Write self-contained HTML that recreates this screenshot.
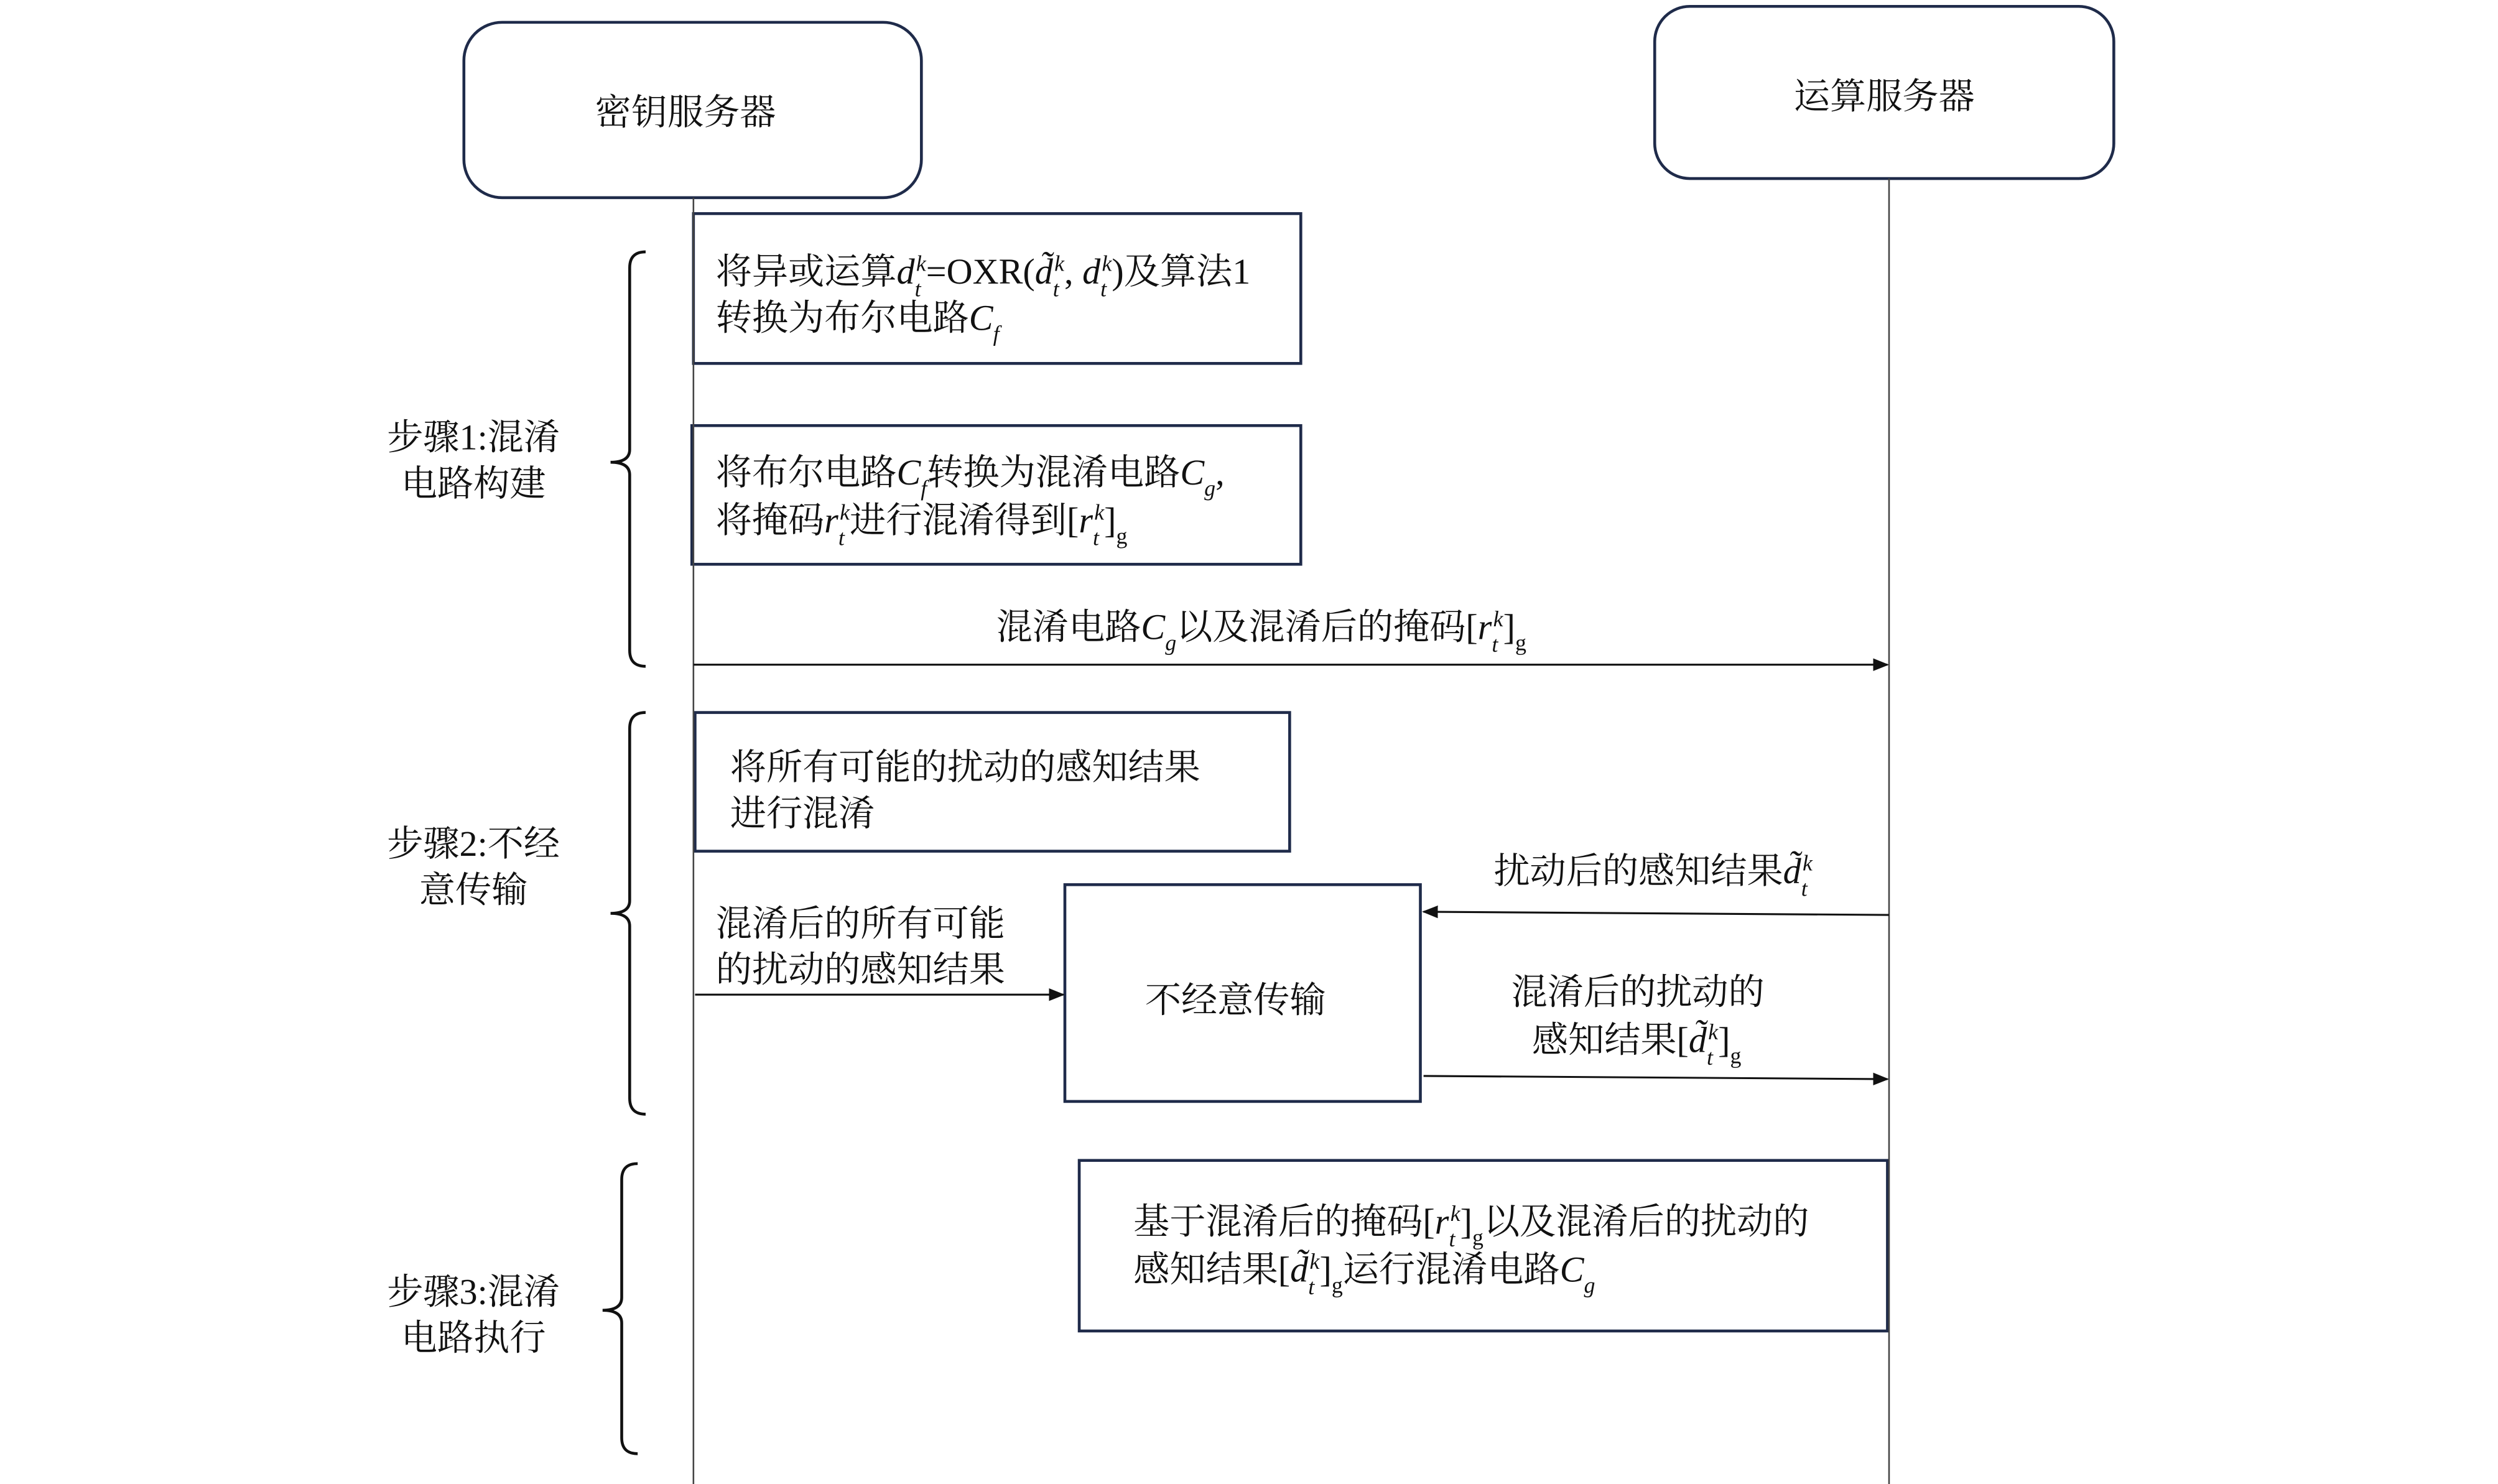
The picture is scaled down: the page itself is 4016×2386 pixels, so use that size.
<!DOCTYPE html>
<html><head><meta charset="utf-8"><style>
html,body{margin:0;padding:0;background:#fff;}
svg{display:block}
text{font-family:"Liberation Serif","Noto Serif CJK SC",serif;font-size:22.7px;fill:#111}
.m{font-style:italic}
.s{font-size:14px;font-style:italic}
.n{font-size:14px}
</style></head><body>
<svg width="4016" height="2386" viewBox="0 0 1567 931" preserveAspectRatio="none" xmlns="http://www.w3.org/2000/svg">
<defs><marker id="a" markerWidth="10" markerHeight="8" refX="9" refY="4" orient="auto" markerUnits="userSpaceOnUse"><path d="M0,0 L10,4 L0,8 z" fill="#111"/></marker></defs>
<g fill="none" stroke="#1f2b4a" stroke-width="1.8">
<rect x="291" y="14" width="287" height="110" rx="24"/>
<rect x="1038" y="4" width="288" height="108" rx="22"/>
<rect x="435" y="134" width="381" height="94"/>
<rect x="434" y="267" width="382" height="87"/>
<rect x="436" y="447" width="373" height="87"/>
<rect x="668" y="555" width="223" height="136"/>
<rect x="677" y="728" width="507" height="107"/>
</g>
<g stroke="#444" stroke-width="1" fill="none">
<line x1="435" y1="124" x2="435" y2="931"/>
<line x1="1185" y1="112" x2="1185" y2="931"/>
</g>
<g stroke="#111" stroke-width="1.2" fill="none">
<line x1="435" y1="417" x2="1184" y2="417" marker-end="url(#a)"/>
<line x1="1185" y1="574" x2="893" y2="572" marker-end="url(#a)"/>
<line x1="436" y1="624" x2="667" y2="624" marker-end="url(#a)"/>
<line x1="893" y1="675" x2="1184" y2="677" marker-end="url(#a)"/>
</g>
<g stroke="#111" stroke-width="1.8" fill="none">
<path d="M405,158 Q395,158 395,168 L395,282 Q395,290 383,290 Q395,290 395,298 L395,408 Q395,418 405,418"/>
<path d="M405,447 Q395,447 395,457 L395,565 Q395,573 383,573 Q395,573 395,581 L395,689 Q395,699 405,699"/>
<path d="M400,730 Q390,730 390,740 L390,814 Q390,822 378,822 Q390,822 390,830 L390,902 Q390,912 400,912"/>
</g>
<text x="430" y="78" text-anchor="middle">密钥服务器</text>
<text x="1182" y="68" text-anchor="middle">运算服务器</text>
<text x="297" y="282" text-anchor="middle">步骤1:混淆</text>
<text x="297" y="311" text-anchor="middle">电路构建</text>
<text x="297" y="537" text-anchor="middle">步骤2:不经</text>
<text x="297" y="566" text-anchor="middle">意传输</text>
<text x="297" y="818" text-anchor="middle">步骤3:混淆</text>
<text x="297" y="847" text-anchor="middle">电路执行</text>

<text x="449" y="178">将异或运算<tspan class="m">d</tspan><tspan class="s" dy="8">t</tspan><tspan class="s" dx="-3" dy="-16">k</tspan><tspan dy="8">=OXR(</tspan><tspan class="m">d̃</tspan><tspan class="s" dy="8">t</tspan><tspan class="s" dx="-3" dy="-16">k</tspan><tspan dy="8">, </tspan><tspan class="m">d</tspan><tspan class="s" dy="8">t</tspan><tspan class="s" dx="-3" dy="-16">k</tspan><tspan dy="8">)及算法1</tspan></text>
<text x="449" y="207">转换为布尔电路<tspan class="m">C</tspan><tspan class="s" dy="7">f</tspan></text>

<text x="449" y="304">将布尔电路<tspan class="m">C</tspan><tspan class="s" dy="7">f</tspan><tspan dy="-7">转换为混淆电路</tspan><tspan class="m">C</tspan><tspan class="s" dy="7">g</tspan><tspan dy="-7">,</tspan></text>
<text x="449" y="334">将掩码<tspan class="m">r</tspan><tspan class="s" dy="8">t</tspan><tspan class="s" dx="-3" dy="-16">k</tspan><tspan dy="8">进行混淆得到[</tspan><tspan class="m">r</tspan><tspan class="s" dy="8">t</tspan><tspan class="s" dx="-3" dy="-16">k</tspan><tspan dy="8">]</tspan><tspan class="n" dy="7">g</tspan></text>

<text x="625" y="401">混淆电路<tspan class="m">C</tspan><tspan class="s" dy="7">g</tspan><tspan dy="-7">以及混淆后的掩码[</tspan><tspan class="m">r</tspan><tspan class="s" dy="8">t</tspan><tspan class="s" dx="-3" dy="-16">k</tspan><tspan dy="8">]</tspan><tspan class="n" dy="7">g</tspan></text>

<text x="458" y="489">将所有可能的扰动的感知结果</text>
<text x="458" y="518">进行混淆</text>

<text x="937" y="554">扰动后的感知结果<tspan class="m">d̃</tspan><tspan class="s" dy="8">t</tspan><tspan class="s" dx="-3" dy="-16">k</tspan></text>
<text x="449" y="587">混淆后的所有可能</text>
<text x="449" y="616">的扰动的感知结果</text>
<text x="775" y="635" text-anchor="middle">不经意传输</text>
<text x="948" y="630">混淆后的扰动的</text>
<text x="961" y="660">感知结果[<tspan class="m">d̃</tspan><tspan class="s" dy="8">t</tspan><tspan class="s" dx="-3" dy="-16">k</tspan><tspan dy="8">]</tspan><tspan class="n" dy="7">g</tspan></text>

<text x="711" y="774">基于混淆后的掩码[<tspan class="m">r</tspan><tspan class="s" dy="8">t</tspan><tspan class="s" dx="-3" dy="-16">k</tspan><tspan dy="8">]</tspan><tspan class="n" dy="7">g</tspan><tspan dy="-7">以及混淆后的扰动的</tspan></text>
<text x="711" y="804">感知结果[<tspan class="m">d̃</tspan><tspan class="s" dy="8">t</tspan><tspan class="s" dx="-3" dy="-16">k</tspan><tspan dy="8">]</tspan><tspan class="n" dy="7">g</tspan><tspan dy="-7">运行混淆电路</tspan><tspan class="m">C</tspan><tspan class="s" dy="7">g</tspan></text>
</svg>
</body></html>
